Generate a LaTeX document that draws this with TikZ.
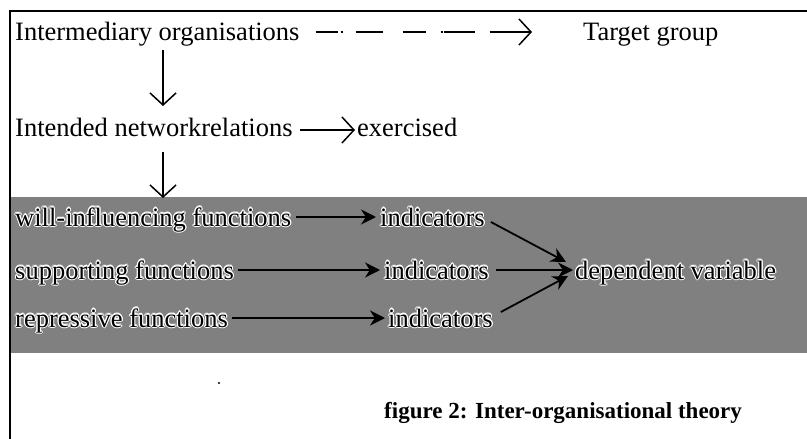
\documentclass[tikz,border=0pt]{standalone}
\usepackage{fontspec}
\setmainfont{Liberation Serif}
\usetikzlibrary{arrows.meta}
\newcommand\bandlabel[3]{%
  \foreach \dx/\dy in {-1.2/0,1.2/0,0/-1.2,0/1.2,-0.9/-0.9,0.9/0.9,-0.9/0.9,0.9/-0.9}{%
    \node[lbl,text=white] at ([shift={(\dx,\dy)}]#2) {#3};}%
  \node[lbl] (#1) at (#2) {#3};}
\begin{document}
\begin{tikzpicture}[x=1pt,y=-1pt,
  lbl/.style={anchor=base west,inner sep=0pt,font=\fontsize{26.5}{30}\selectfont},
  captxt/.style={anchor=base west,inner sep=0pt,font=\fontsize{23}{28}\selectfont\bfseries},
  openarr/.style={line width=1.3pt,-{Straight Barb[length=12pt,width=26pt,line width=1.5pt]}},
  bandarr/.style={line width=1.8pt,-{Stealth[length=15pt,width=15pt]}},
  frameline/.style={line width=1.6pt}]
\useasboundingbox (0,0) rectangle (807,439);
\fill[white] (0,0) rectangle (807,439);
% gray band
\fill[black!50] (11,197) rectangle (807,353);
% frame
\draw[frameline] (10,439) -- (10,11) -- (807,11);
% texts
\node[lbl] (io) at (15,40) {Intermediary organisations};
\node[lbl] (tg) at (583,40) {Target group};
\node[lbl] (inr) at (15,136) {Intended networkrelations};
\node[lbl] (ex) at (357,136) {exercised};
\bandlabel{wf}{15,226}{will-influencing functions}
\bandlabel{i1}{380,226}{indicators}
\bandlabel{sf}{15,279}{supporting functions}
\bandlabel{i2}{384,279}{indicators}
\bandlabel{dv}{575,279}{dependent variable}
\bandlabel{rf}{15,327}{repressive functions}
\bandlabel{i3}{388,327}{indicators}
\node[captxt] (cp) at (384,418) {figure 2: Inter-organisational theory};
\fill (219,383) circle (1.2pt);
% coordinates for arrow ends
\coordinate (a1s) at (318,32);
\coordinate (a1e) at (532,32);
\coordinate (v1s) at (163,50);
\coordinate (v1e) at (163,106);
\coordinate (a2s) at (290,130);
\coordinate (a2e) at (355,130);
\coordinate (v2s) at (163,152);
\coordinate (v2e) at (163,198);
% connectors
\draw[openarr,dash pattern=on 22pt off 3pt on 2pt off 13pt on 27pt off 20pt on 23pt off 15pt on 2pt off 1pt on 31pt off 15pt on 60pt off 1pt] (io.east |- a1s) ++(16,0) -- (a1e);
\draw[openarr] (v1s) -- (v1e);
\draw[openarr] (inr.east |- a2s) ++(7,0) -- (a2e);
\draw[openarr] (v2s) -- (v2e);
\draw[bandarr] ([xshift=5pt]wf.east |- 0,217) -- ([xshift=-4pt]i1.west |- 0,217);
\draw[bandarr] ([xshift=4pt]sf.east |- 0,270) -- ([xshift=-4pt]i2.west |- 0,270);
\draw[bandarr] ([xshift=4pt]rf.east |- 0,318) -- ([xshift=-3pt]i3.west |- 0,318);
\draw[bandarr] ([xshift=7pt]i2.east |- 0,270) -- ([xshift=-2pt]dv.west |- 0,270);
\draw[bandarr] ([xshift=6pt]i1.east |- 0,222) -- (566,262);
\draw[bandarr] ([xshift=8pt]i3.east |- 0,312) -- (568,276);
\end{tikzpicture}
\end{document}
